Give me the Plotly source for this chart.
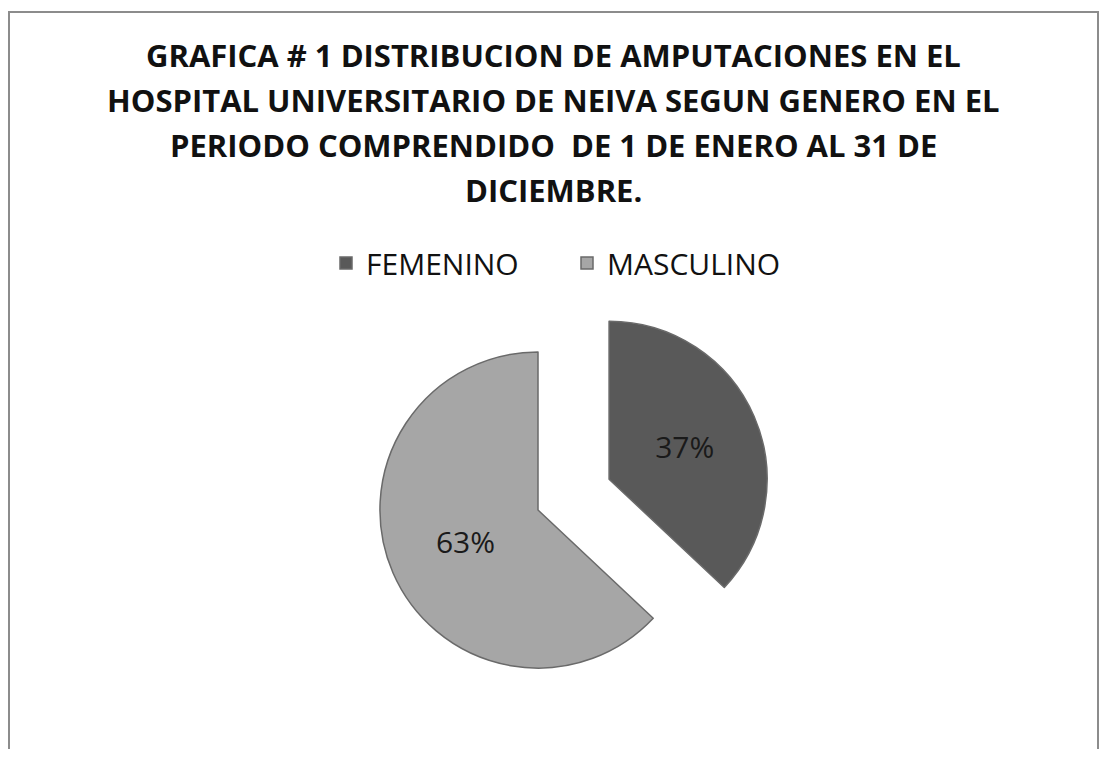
import plotly.graph_objects as go

# Datos de la grafica
generos = ["FEMENINO", "MASCULINO"]
porcentajes = [37, 63]
colores = ["#595959", "#a6a6a6"]
separacion = [0.49, 0]

titulo_lineas = [
    "GRAFICA # 1 DISTRIBUCION DE AMPUTACIONES EN EL",
    "HOSPITAL UNIVERSITARIO DE NEIVA SEGUN GENERO EN EL",
    "PERIODO COMPRENDIDO  DE 1 DE ENERO AL 31 DE",
    "DICIEMBRE.",
]

# el body de la pagina tiene 8px de margen, la figura se ajusta a eso
W, H = 1091, 741
fuente = "Open Sans"

cx, cy, lado = 530, 502, 471  # centro y caja del pastel (px)

fig = go.Figure(
    go.Pie(
        labels=generos,
        values=porcentajes,
        sort=False,
        direction="clockwise",
        rotation=0,
        pull=separacion,
        marker=dict(colors=colores, line=dict(color="#6a6a6a", width=1.5)),
        textinfo="percent",
        texttemplate="%{percent:.0%}",
        textposition="inside",
        insidetextfont=dict(family=fuente, size=30, color="#1a1a1a"),
        domain=dict(
            x=[(cx - lado / 2) / W, (cx + lado / 2) / W],
            y=[1 - (cy + lado / 2) / H, 1 - (cy - lado / 2) / H],
        ),
        hoverinfo="label+percent",
    )
)

# Titulo en lineas separadas (espaciado como el original)
for i, linea in enumerate(titulo_lineas):
    fig.add_annotation(
        text=f"<b>{linea}</b>",
        x=545 / W, y=1 - (47.5 + 44.8 * i) / H,
        xref="paper", yref="paper",
        xanchor="center", yanchor="middle",
        showarrow=False,
        font=dict(family=fuente, size=31, color="#111111"),
    )

# Marco del grafico
fig.add_shape(
    type="rect", xref="paper", yref="paper",
    x0=1 / W, x1=1090 / W, y0=-0.2, y1=1 - 4 / H,
    line=dict(color="#8c8c8c", width=2),
    fillcolor="rgba(0,0,0,0)",
)

fig.update_layout(
    width=W,
    height=H,
    margin=dict(l=0, r=0, t=0, b=0),
    paper_bgcolor="white",
    plot_bgcolor="white",
    showlegend=True,
    legend=dict(
        orientation="h",
        x=318 / W, y=1 - 255 / H,
        xanchor="left", yanchor="middle",
        font=dict(family=fuente, size=30, color="#111111"),
        itemwidth=30,
        entrywidth=196,
        entrywidthmode="pixels",
    ),
)

fig.write_html("out.html")
